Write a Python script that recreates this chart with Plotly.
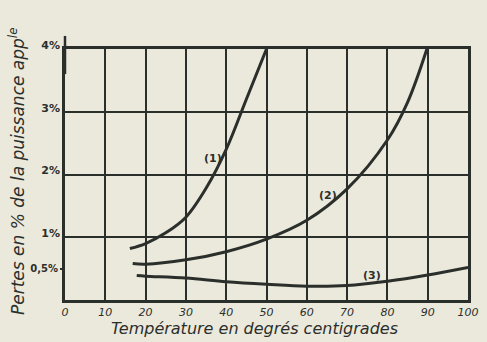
import plotly.graph_objects as go

# Data
x1 = [16.1, 20, 25, 30, 35, 40, 45, 50]
y1 = [0.82, 0.90, 1.07, 1.32, 1.78, 2.4, 3.2, 4.0]
x2 = [16.8, 20, 30, 40, 50, 60, 70, 80, 85, 89.8]
y2 = [0.58, 0.57, 0.64, 0.77, 0.97, 1.27, 1.77, 2.55, 3.15, 4.0]
x3 = [17.8, 20, 30, 40, 50, 60, 70, 80, 90, 100]
y3 = [0.39, 0.38, 0.35, 0.29, 0.25, 0.22, 0.23, 0.30, 0.40, 0.52]

x_ticks = [0, 10, 20, 30, 40, 50, 60, 70, 80, 90, 100]
y_ticks = [1, 2, 3, 4]
y_tick_text = ["1%", "2%", "3%", "4%"]
y_minor_tick = [0.5]
y_minor_text = ["0,5%"]

labels = ["(1)", "(2)", "(3)"]
label_x = [36.6, 65.3, 76.1]
label_y = [2.25, 1.66, 0.39]

bg = "#ebe9db"
ink = "#2b2f2c"
font_family = "DejaVu Sans"

fig = go.Figure()
for xs, ys in [(x1, y1), (x2, y2), (x3, y3)]:
    fig.add_trace(go.Scatter(x=xs, y=ys, mode="lines",
                             line=dict(color=ink, width=3, shape="spline", smoothing=1.0),
                             showlegend=False, hoverinfo="skip"))

# invisible trace on overlay axis for the 0,5% tick
fig.add_trace(go.Scatter(x=[0], y=[0.5], yaxis="y2", mode="markers",
                         marker=dict(opacity=0), showlegend=False, hoverinfo="skip"))

for t, lx, ly in zip(labels, label_x, label_y):
    fig.add_annotation(x=lx, y=ly, text=t, showarrow=False,
                       font=dict(family=font_family, size=11, color=ink, weight="bold"))

fig.add_annotation(xref="paper", yref="paper", x=0.469, y=-0.114,
                   xanchor="center", yanchor="middle",
                   text="Température en degrés centigrades", showarrow=False,
                   font=dict(family=font_family, size=16, color=ink, style="italic"))
fig.add_annotation(xref="paper", yref="paper", x=-0.119, y=0.514, textangle=-90,
                   xanchor="center", yanchor="middle",
                   text="Pertes en % de la puissance app<sup>le</sup>", showarrow=False,
                   font=dict(family=font_family, size=17, color=ink, style="italic"))

# extension of the left axis above the frame
fig.add_shape(type="line", xref="paper", yref="paper", x0=0, x1=0, y0=0.9, y1=1.052,
              line=dict(color=ink, width=2.5))

fig.update_layout(
    width=487, height=342,
    margin=dict(l=65, r=19, t=49, b=42),
    paper_bgcolor=bg, plot_bgcolor=bg,
    xaxis=dict(range=[0, 100], tickvals=x_ticks, showgrid=True, gridcolor=ink, gridwidth=2,
               showline=True, linecolor=ink, linewidth=2.5, mirror=True, zeroline=False,
               automargin=False, ticks="", ticklabelstandoff=0,
               tickfont=dict(family=font_family, size=11, color=ink, style="italic")),
    yaxis=dict(range=[0, 4], tickvals=y_ticks, ticktext=y_tick_text, showgrid=True,
               gridcolor=ink, gridwidth=2, showline=True, linecolor=ink, linewidth=2.5,
               mirror=True, zeroline=False, ticks="", ticklabelshift=-4, automargin=False,
               tickfont=dict(family=font_family, size=11, color=ink, weight="bold")),
    yaxis2=dict(range=[0, 4], overlaying="y", side="left", tickvals=y_minor_tick,
                ticktext=y_minor_text, showgrid=False, zeroline=False, showline=False,
                ticks="outside", ticklen=4, tickcolor=ink, tickwidth=1.5, automargin=False,
                tickfont=dict(family=font_family, size=10, color=ink, weight="bold")),
)

fig.write_html("out.html", config={"displayModeBar": False},
               post_script="document.body.style.margin='0';"
                           "document.body.style.background='" + bg + "';")
